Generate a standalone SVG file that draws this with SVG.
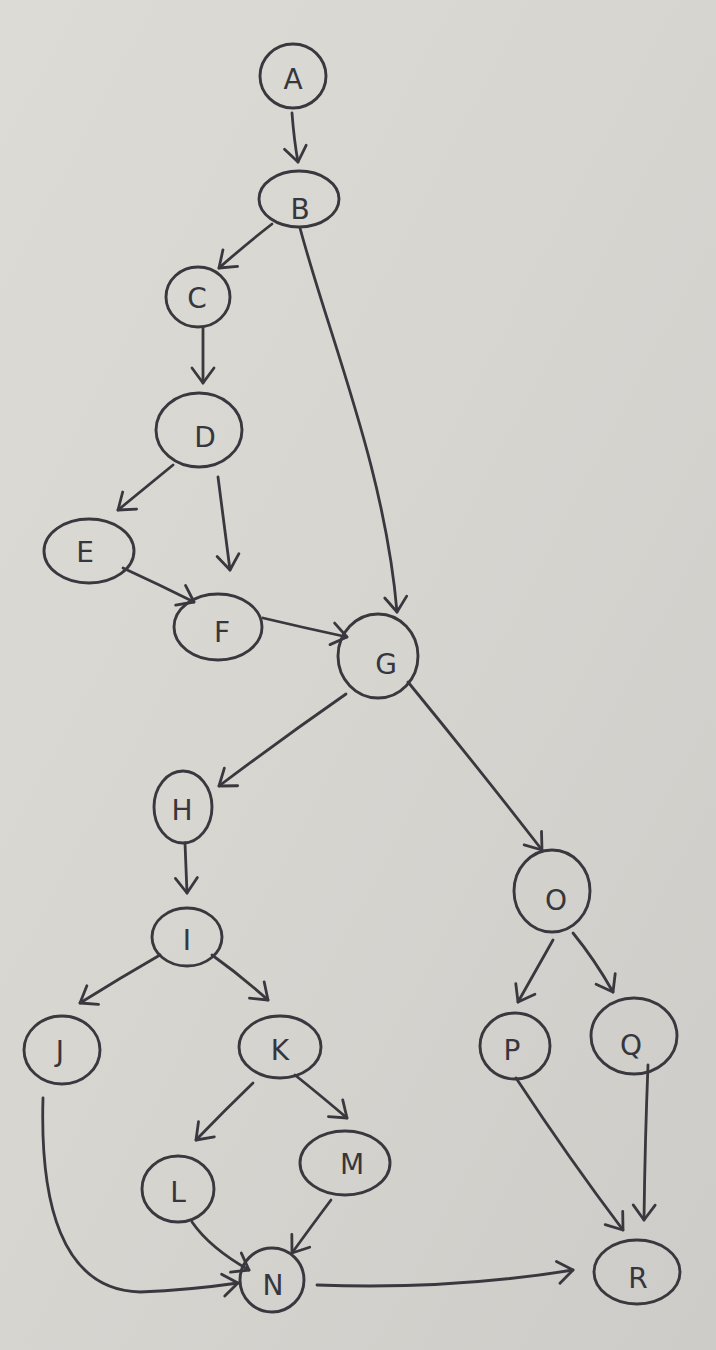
<svg xmlns="http://www.w3.org/2000/svg" width="716" height="1350" viewBox="0 0 716 1350">
<style>
.n ellipse{fill:none;stroke:#38383e;stroke-width:2.9}
.n text{font-family:"DejaVu Sans","Liberation Sans",sans-serif;font-size:28px;fill:#36363c;text-anchor:middle;dominant-baseline:central}
.e path{fill:none;stroke:#38383e;stroke-width:2.8;stroke-linecap:round;marker-end:url(#ah)}
</style>
<defs>
<linearGradient id="bg" x1="0" y1="0" x2="1" y2="1">
<stop offset="0" stop-color="#dcdbd6"/>
<stop offset="0.5" stop-color="#d6d5d0"/>
<stop offset="1" stop-color="#cdccc8"/>
</linearGradient>
<marker id="ah" markerUnits="userSpaceOnUse" markerWidth="40" markerHeight="40" viewBox="-20 -20 40 40" refX="0" refY="0" orient="auto">
<path d="M-15,-11 L0,0 L-15,11" fill="none" stroke="#38383e" stroke-width="2.8" stroke-linecap="round" stroke-linejoin="round"/>
</marker>
</defs>
<rect width="716" height="1350" fill="url(#bg)"/>
<g id="edges" class="e">
<path d="M292,113 Q294,140 298,162"/>
<path d="M272,224 Q245,245 219,268"/>
<path d="M300,228 C330,340 385,470 397,612"/>
<path d="M203,328 L203,383"/>
<path d="M173,465 Q145,488 118,510"/>
<path d="M218,477 Q224,525 230,570"/>
<path d="M123,568 Q160,585 194,602"/>
<path d="M263,618 Q305,628 347,637"/>
<path d="M346,694 Q280,740 219,786"/>
<path d="M408,682 Q480,770 542,850"/>
<path d="M185,843 Q186,868 187,893"/>
<path d="M160,955 Q120,978 80,1003"/>
<path d="M212,955 Q240,975 268,1000"/>
<path d="M253,1083 Q225,1110 196,1140"/>
<path d="M295,1075 Q320,1095 347,1118"/>
<path d="M192,1222 Q210,1248 249,1270"/>
<path d="M331,1200 Q310,1228 292,1253"/>
<path d="M43,1098 C40,1200 60,1290 140,1292 Q190,1290 238,1283"/>
<path d="M317,1285 Q450,1290 573,1270"/>
<path d="M553,940 Q536,970 518,1002"/>
<path d="M573,933 Q595,960 613,992"/>
<path d="M516,1078 Q570,1160 623,1230"/>
<path d="M648,1065 Q645,1140 644,1220"/>
</g>
<g id="A" class="n"><ellipse cx="293" cy="76" rx="33" ry="32"/><text x="293" y="79">A</text></g>
<g id="B" class="n"><ellipse cx="299" cy="199" rx="40" ry="28"/><text x="300" y="209">B</text></g>
<g id="C" class="n"><ellipse cx="198" cy="297" rx="32" ry="30"/><text x="197" y="298">C</text></g>
<g id="D" class="n"><ellipse cx="199" cy="430" rx="43" ry="37"/><text x="205" y="437">D</text></g>
<g id="E" class="n"><ellipse cx="89" cy="551" rx="45" ry="32"/><text x="85" y="552">E</text></g>
<g id="F" class="n"><ellipse cx="218" cy="627" rx="44" ry="33"/><text x="222" y="632">F</text></g>
<g id="G" class="n"><ellipse cx="378" cy="656" rx="40" ry="42"/><text x="386" y="664">G</text></g>
<g id="H" class="n"><ellipse cx="183" cy="807" rx="29" ry="36"/><text x="182" y="810">H</text></g>
<g id="I" class="n"><ellipse cx="187" cy="937" rx="35" ry="29"/><text x="187" y="940">I</text></g>
<g id="J" class="n"><ellipse cx="62" cy="1050" rx="38" ry="34"/><text x="60" y="1051">J</text></g>
<g id="K" class="n"><ellipse cx="280" cy="1047" rx="41" ry="31"/><text x="280" y="1050">K</text></g>
<g id="L" class="n"><ellipse cx="178" cy="1189" rx="36" ry="33"/><text x="178" y="1192">L</text></g>
<g id="M" class="n"><ellipse cx="345" cy="1163" rx="45" ry="32"/><text x="352" y="1164">M</text></g>
<g id="N" class="n"><ellipse cx="272" cy="1280" rx="32" ry="32"/><text x="273" y="1285">N</text></g>
<g id="O" class="n"><ellipse cx="552" cy="891" rx="38" ry="41"/><text x="556" y="900">O</text></g>
<g id="P" class="n"><ellipse cx="515" cy="1046" rx="35" ry="33"/><text x="512" y="1050">P</text></g>
<g id="Q" class="n"><ellipse cx="634" cy="1036" rx="43" ry="38"/><text x="631" y="1045">Q</text></g>
<g id="R" class="n"><ellipse cx="637" cy="1272" rx="43" ry="32"/><text x="638" y="1278">R</text></g>
</svg>
